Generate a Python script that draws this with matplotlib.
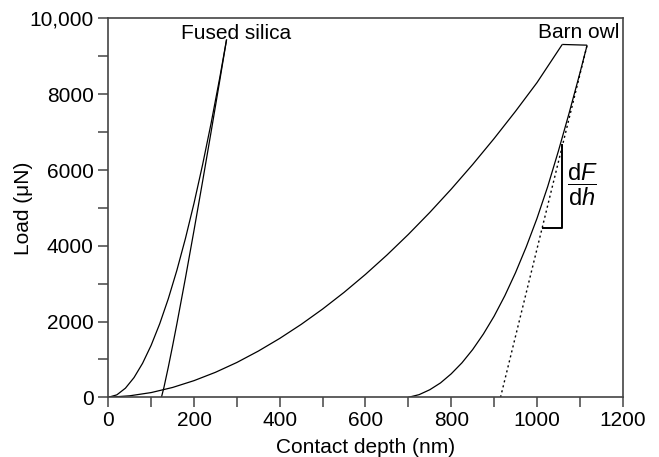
import matplotlib
matplotlib.use("Agg")
import matplotlib.pyplot as plt
from matplotlib.ticker import MultipleLocator, FuncFormatter

# values (depth in nm, load in uN)
silica_load_h = [0, 20, 40, 60, 80, 100, 120, 140, 160, 180, 200, 220, 240, 260, 276]
silica_load_F = [0, 65, 241, 520, 898, 1373, 1941, 2601, 3352, 4193, 5122, 6139, 7242, 8432, 9446]
silica_unload_h = [276, 260, 240, 220, 200, 180, 160, 150, 140, 130, 124]
silica_unload_F = [9446, 8358, 7016, 5698, 4407, 3149, 1937, 1355, 795, 270, 0]

owl_load_h = [0, 50, 100, 150, 200, 250, 300, 350, 400, 450, 500, 550, 600, 650,
              700, 750, 800, 850, 900, 950, 1000, 1059]
owl_load_F = [0, 40, 125, 260, 440, 660, 920, 1220, 1555, 1925, 2330, 2770, 3245, 3755,
              4300, 4880, 5495, 6145, 6830, 7550, 8305, 9314]
owl_hold_h = [1059, 1117]
owl_hold_F = [9314, 9295]
owl_unload_h = [1117, 1100, 1075, 1050, 1025, 1000, 975, 950, 925, 900, 875, 850,
                825, 800, 775, 750, 725, 700]
owl_unload_F = [9295, 8550, 7500, 6500, 5560, 4720, 3970, 3290, 2680, 2140, 1670, 1260,
                910, 620, 380, 200, 70, 0]

tangent_h = [915, 1117]
tangent_F = [0, 9295]
slope_h = [1013, 1059, 1059]
slope_F = [4459, 4459, 6657]

plt.rcParams["font.family"] = ["Liberation Sans", "DejaVu Sans"]
plt.rcParams["font.size"] = 15
plt.rcParams["mathtext.fontset"] = "custom"
plt.rcParams["mathtext.rm"] = "Liberation Sans"
plt.rcParams["mathtext.it"] = "Liberation Sans:italic"

fig = plt.figure(figsize=(6.59, 4.57), dpi=100)
ax = fig.add_axes([0.1643, 0.1306, 0.7806, 0.829])

kw = dict(color="black", lw=0.9, solid_capstyle="butt", solid_joinstyle="round")
ax.plot(silica_load_h, silica_load_F, **kw)
ax.plot(silica_unload_h, silica_unload_F, **kw)
ax.plot(owl_load_h, owl_load_F, **kw)
ax.plot(owl_hold_h, owl_hold_F, **kw)
ax.plot(owl_unload_h, owl_unload_F, **kw)
ax.plot(tangent_h, tangent_F, color="black", lw=1.0, linestyle=(0, (1.5, 2.2)))
ax.plot(slope_h, slope_F, color="black", lw=1.4)

ax.text(298, 9460, "Fused silica", ha="center", va="baseline")
ax.text(1097, 9490, "Barn owl", ha="center", va="baseline")
ax.text(1107, 5600, r"$\dfrac{\mathrm{d}F}{\mathrm{d}\mathit{h}}$", ha="center", va="center",
        fontsize=17)

ax.set_xlim(0, 1200)
ax.set_ylim(0, 10000)
ax.xaxis.set_major_locator(MultipleLocator(200))
ax.xaxis.set_minor_locator(MultipleLocator(100))
ax.yaxis.set_major_locator(MultipleLocator(2000))
ax.yaxis.set_minor_locator(MultipleLocator(1000))
ax.yaxis.set_major_formatter(FuncFormatter(
    lambda v, p: f"{v:,.0f}" if v >= 10000 else f"{v:.0f}"))

spine_c = "#444444"
for s in ax.spines.values():
    s.set_color(spine_c)
    s.set_linewidth(1.2)
ax.tick_params(which="both", direction="out", length=7, width=1.1,
               color=spine_c, top=False, right=False)
ax.tick_params(axis="x", pad=3)
ax.tick_params(axis="y", pad=3.5)

ax.set_xlabel("Contact depth (nm)")
ax.set_ylabel("Load (\u03bcN)")
ax.xaxis.set_label_coords(0.5, -0.108)
ax.xaxis.label.set_va("top")
ax.yaxis.set_label_coords(-0.146, 0.5)

fig.savefig("out.png", dpi=100)
